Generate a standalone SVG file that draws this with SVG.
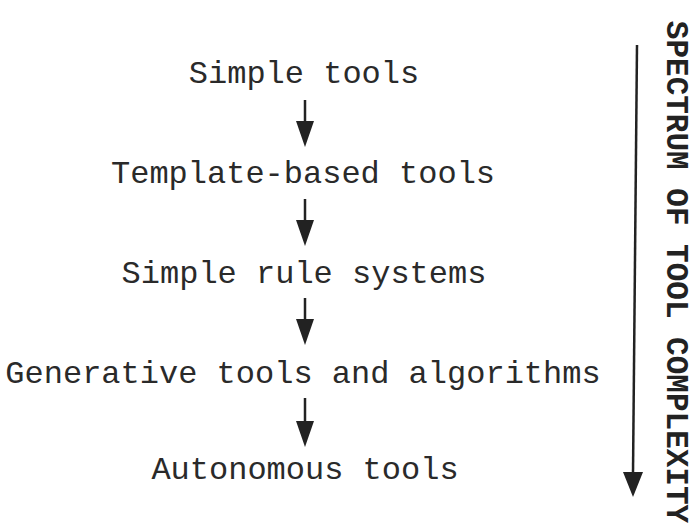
<svg xmlns="http://www.w3.org/2000/svg" width="692" height="527" viewBox="0 0 692 527">
<style>
.t{font-family:"Liberation Mono","Courier New",monospace;font-size:32px;fill:#2a2a2a;text-anchor:middle}
.v{font-family:"Liberation Mono","Courier New",monospace;font-size:31px;font-weight:bold;fill:#222;text-anchor:middle}
.c{stroke:#222;stroke-width:2.5;fill:none}
</style>
<rect width="692" height="527" fill="#fff"/>
<g id="n1"><text class="t" x="304" y="83">Simple tools</text></g>
<g id="n2"><text class="t" x="303" y="183">Template-based tools</text></g>
<g id="n3"><text class="t" x="304" y="283">Simple rule systems</text></g>
<g id="n4"><text class="t" x="303" y="383">Generative tools and algorithms</text></g>
<g id="n5"><text class="t" x="305" y="479">Autonomous tools</text></g>
<g id="axis">
<line class="c" x1="637" y1="45" x2="633" y2="473"/>
<path d="M623,472 L643,472 L633,497 Z" fill="#222"/>
<text class="v" transform="translate(667,272) rotate(90)">SPECTRUM OF TOOL COMPLEXITY</text>
</g>
<g id="connectors" fill="#222">
<line class="c" x1="305" y1="100" x2="305" y2="122"/>
<path d="M296,121 L314,121 L305,147 Z"/>
<line class="c" x1="305" y1="199" x2="305" y2="221"/>
<path d="M296,220 L314,220 L305,246 Z"/>
<line class="c" x1="305" y1="298" x2="305" y2="320"/>
<path d="M296,319 L314,319 L305,345 Z"/>
<line class="c" x1="305" y1="398" x2="305" y2="422"/>
<path d="M296,421 L314,421 L305,447 Z"/>
</g>
</svg>
